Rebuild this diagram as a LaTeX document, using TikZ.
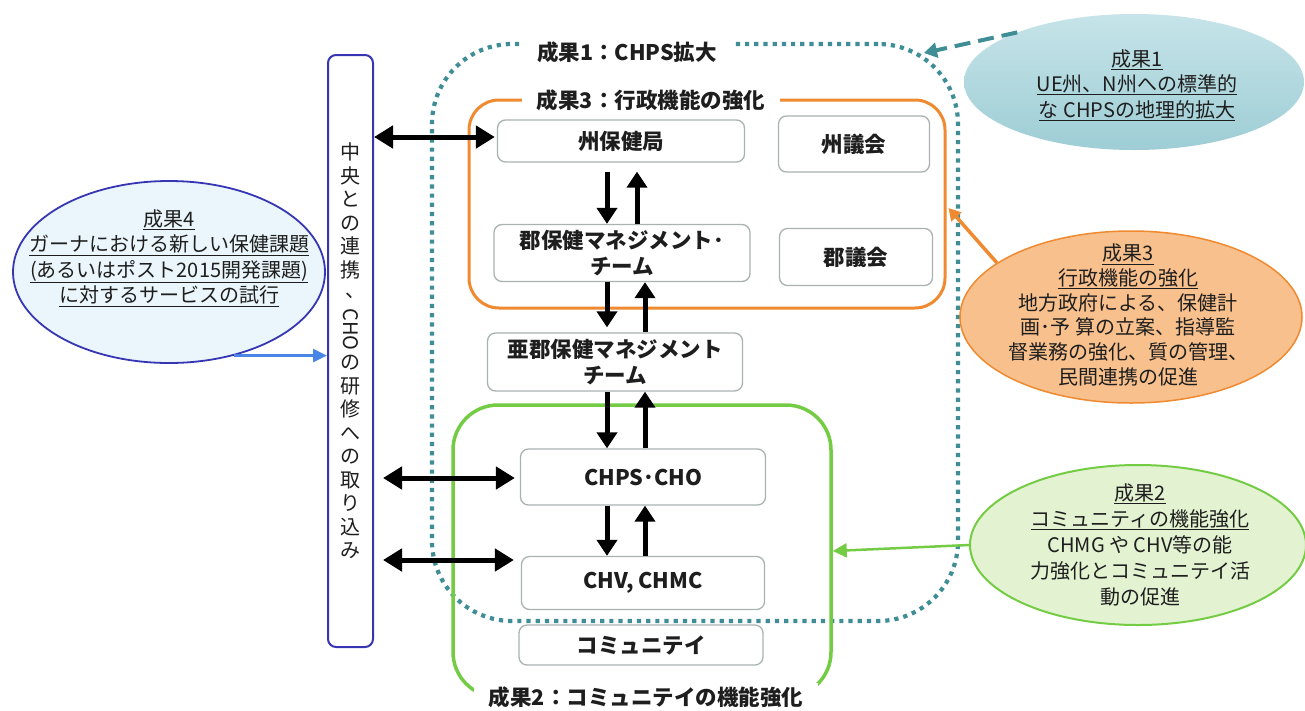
\documentclass[tikz,border=0pt]{standalone}
\usepackage{fontspec}
\setmainfont{Noto Sans CJK JP}
\usepackage{graphicx}
\usetikzlibrary{arrows.meta,shapes.geometric,calc}
\definecolor{teal1}{HTML}{3F8E96}
\definecolor{orange1}{HTML}{EF8A30}
\definecolor{green1}{HTML}{74CC44}
\definecolor{blue1}{HTML}{3636B4}
\definecolor{arrblue}{HTML}{4A86E8}
\definecolor{boxgray}{HTML}{A9B1B1}
\definecolor{txt}{HTML}{1E1E1E}
\definecolor{e1top}{HTML}{C6E4E9}
\definecolor{e1bot}{HTML}{9ECDD5}
\definecolor{e2fill}{HTML}{E3F3D2}
\definecolor{e3fill}{HTML}{F8C08C}
\definecolor{e4fill}{HTML}{EAF6FB}
\newcommand\vfont{\fontsize{20}{23.5}\selectfont\lineskip=5pt\relax}
\newcommand\boxfont{\bfseries\fontsize{21.5}{26}\selectfont}
\newcommand\efont{\fontsize{20}{25.5}\selectfont}
\begin{document}
\begin{tikzpicture}[x=1pt,y=-1pt,
  gbox/.style={draw=boxgray, line width=1.3pt, rounded corners=8pt, fill=white,
    font=\boxfont, text=txt, align=center, inner sep=0pt},
  lbl/.style={fill=white, font=\boxfont, text=txt, inner xsep=15pt, inner ysep=3pt},
  blk/.style={line width=5pt, -{Triangle[width=20pt,length=16pt]}},
  dbl/.style={line width=5pt, {Triangle[width=22pt,length=19pt]}-{Triangle[width=22pt,length=19pt]}},
  etext/.style={font=\efont, text=txt, align=center},
  ell/.style={ellipse, inner sep=0pt}
]
\useasboundingbox (0,0) rectangle (1305,710);
\fill[white] (0,0) rectangle (1305,710);

% frames
\node[draw=teal1, line width=4.2pt, dash pattern=on 4.2pt off 5pt, rounded corners=80pt,
  minimum width=526pt, minimum height=577pt] (db) at (695,332.5) {};
\node[draw=orange1, line width=3pt, rounded corners=30pt,
  minimum width=476pt, minimum height=208pt] (ob) at (707,204) {};
\node[draw=green1, line width=3.5pt, rounded corners=45pt,
  minimum width=378pt, minimum height=292pt] (gb) at (642,551) {};

\node[lbl] (l1) at (627,52) {成果1：CHPS拡大};
\node[lbl] (l3) at (651,100) {成果3：行政機能の強化};
\node[lbl] (l2) at (646,697) {成果2：コミュニテイの機能強化};

% boxes
\node[gbox, minimum width=247pt, minimum height=42pt] (s1) at (621,141) {州保健局};
\node[gbox, minimum width=151pt, minimum height=56pt] (s2) at (854,144) {州議会};
\node[gbox, minimum width=256pt, minimum height=57pt] (d1) at (622,253) {郡保健マネジメント･\\チーム};
\node[gbox, minimum width=153pt, minimum height=57pt] (d2) at (856,257) {郡議会};
\node[gbox, minimum width=255pt, minimum height=58pt] (sd) at (615,362) {亜郡保健マネジメント\\チーム};
\node[gbox, minimum width=245pt, minimum height=56pt] (ch) at (643,477) {CHPS･CHO};
\node[gbox, minimum width=243pt, minimum height=53pt] (cv) at (643,583) {CHV, CHMC};
\node[gbox, minimum width=244pt, minimum height=40pt] (cm) at (641,645) {コミュニテイ};

% central box
\node[draw=blue1, line width=2pt, rounded corners=8pt, fill=white, minimum width=45pt,
  minimum height=592pt, inner sep=0pt, align=center, font=\vfont, text=txt] (cb) at (350.5,351)
  {中\\央\\と\\の\\連\\携\\\raisebox{3pt}{\hspace*{10pt}、}\\\raisebox{16pt}{\rotatebox{-90}{CHO}}\\の\\研\\修\\へ\\の\\取\\り\\込\\み};

% vertical arrows
\coordinate (xd) at (607,0);
\coordinate (xu1) at (637,0);
\coordinate (xu) at (645,0);
\path (s1.south) ++(0,9) coordinate (s1b);
\path (sd.north) ++(0,-5) coordinate (sdt);
\draw[blk] (s1b -| xd) -- (d1.north -| xd);
\draw[blk] (d1.north -| xu1) -- (s1b -| xu1);
\draw[blk] (d1.south -| xd) -- (sdt -| xd);
\draw[blk] (sd.north -| xu) -- (d1.south -| xu);
\draw[blk] (sd.south -| xd) -- (ch.north -| xd);
\draw[blk] (ch.north -| xu) -- (sd.south -| xu);
\draw[blk] (ch.south -| xd) -- (cv.north -| xd);
\draw[blk] (cv.north -| xu) -- (ch.south -| xu);

% horizontal double arrows
\path (s1.west) ++(-2,-4) coordinate (s1w);
\path (ch.west) ++(-5,1) coordinate (chw);
\path (cv.west) ++(-7,-23) coordinate (cvw);
\path (cb.east |- chw) ++(9,0) coordinate (cbc);
\path (cb.east |- cvw) ++(9,0) coordinate (cbv);
\draw[dbl] (cb.east |- s1w) -- (s1w);
\draw[dbl] (cbc) -- (chw);
\draw[dbl] (cbv) -- (cvw);

% outcome ellipses
\node[ell, top color=e1top, bottom color=e1bot, minimum width=340pt, minimum height=136pt] (e1) at (1134,82) {};
\node[etext] (t1) at (1137,85) {\underline{成果1}\\\underline{UE州、N州への標準的}\\\underline{な CHPSの地理的拡大}};

\node[ell, draw=orange1, line width=1.5pt, fill=e3fill, minimum width=342pt, minimum height=172pt] (e3) at (1131,317) {};
\node[etext, font=\fontsize{20}{24.8}\selectfont] (t3) at (1128,315) {\underline{成果3}\\\underline{行政機能の強化}\\地方政府による、保健計\\画･予 算の立案、指導監\\督業務の強化、質の管理、\\民間連携の促進};

\node[ell, draw=green1, line width=2pt, fill=e2fill, minimum width=336pt, minimum height=160pt] (e2) at (1138,545) {};
\node[etext, font=\fontsize{20}{26.2}\selectfont] (t2) at (1140,545) {\underline{成果2}\\\underline{コミュニティの機能強化}\\CHMG や CHV等の能\\力強化とコミュニテイ活\\動の促進};

\node[ell, draw=blue1, line width=1.8pt, fill=e4fill, minimum width=312pt, minimum height=182pt] (e4) at (169,272) {};
\node[etext] (t4) at (169,258) {\underline{成果4}\\\underline{ガーナにおける新しい保健課題}\\\underline{(あるいはポスト2015開発課題)}\\\underline{に対するサービスの試行}};

% outcome arrows
\path (ob.east) ++(2,4) coordinate (obt);
\coordinate (dbt) at (924,53);
\draw[orange1, line width=3.5pt, -{Triangle[width=13pt,length=12pt]}] (e3.158) -- (obt);
\draw[green1, line width=2.5pt, -{Triangle[width=14pt,length=14pt]}] (e2.west) -- (gb.east);
\draw[arrblue, line width=2.5pt, -{Triangle[width=13pt,length=14pt]}] (e4.-52) -- (e4.-52 -| cb.west);
\draw[teal1, line width=4pt, dash pattern=on 16pt off 8pt, -{Triangle[width=15pt,length=13pt]}] (e1.157) -- (dbt);
\end{tikzpicture}
\end{document}
